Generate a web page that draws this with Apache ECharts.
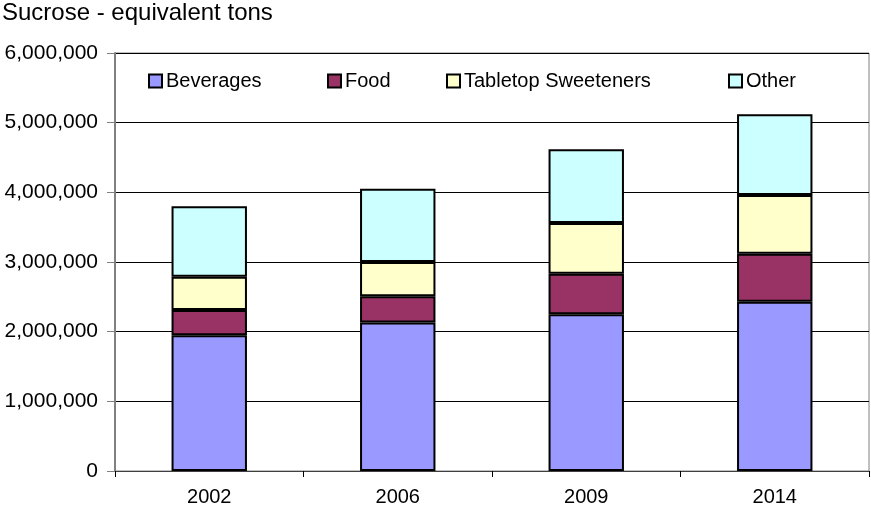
<!DOCTYPE html>
<html>
<head>
<meta charset="utf-8">
<script src="https://cdn.jsdelivr.net/npm/echarts@6/dist/echarts.min.js"></script>
<style>
  html, body { margin: 0; padding: 0; background: #fff; }
  #chart { width: 871px; height: 512px; }
</style>
</head>
<body>
<div id="chart"></div>
<script>
// Sweetener use by application, sucrose-equivalent tons
const years = ['2002', '2006', '2009', '2014'];
const beverages = [1950000, 2130000, 2250000, 2430000];
const food = [360000, 380000, 580000, 690000];
const tabletop = [480000, 490000, 730000, 840000];
const other = [1010000, 1050000, 1060000, 1160000];
const yTicks = [0, 1000000, 2000000, 3000000, 4000000, 5000000, 6000000];

const FONT = '"Liberation Sans", Arial, sans-serif';

const seriesDefs = [
  { name: 'Beverages', data: beverages, color: '#9999FF', legendLeft: 148 },
  { name: 'Food', data: food, color: '#993366', legendLeft: 327 },
  { name: 'Tabletop Sweeteners', data: tabletop, color: '#FFFFCC', legendLeft: 446 },
  { name: 'Other', data: other, color: '#CCFFFF', legendLeft: 728 }
];

const chart = echarts.init(document.getElementById('chart'));

chart.setOption({
  animation: false,
  backgroundColor: '#fff',
  title: {
    text: 'Sucrose - equivalent tons',
    left: 0,
    top: 0,
    padding: [1, 0, 0, 2],
    textStyle: { fontFamily: FONT, fontSize: 24, fontWeight: 'normal', color: '#000' }
  },
  legend: seriesDefs.map(s => ({
    data: [s.name],
    left: s.legendLeft,
    top: 71,
    padding: 0,
    icon: 'rect',
    itemWidth: 13,
    itemHeight: 13,
    itemGap: 0,
    itemStyle: { borderColor: '#000', borderWidth: 2 },
    textStyle: { fontFamily: FONT, fontSize: 20, color: '#000', padding: [0, 0, 0, -1] }
  })),
  grid: {
    left: 115,
    right: 2,
    top: 53,
    bottom: 41,
    show: true,
    borderColor: '#808080',
    borderWidth: 1
  },
  xAxis: {
    type: 'category',
    data: years,
    axisLine: { lineStyle: { color: '#404040', width: 1 } },
    axisTick: { show: true, length: 6, inside: false, alignWithLabel: false, lineStyle: { color: '#000' } },
    axisLabel: { fontFamily: FONT, fontSize: 20, color: '#000', margin: 16 }
  },
  yAxis: {
    type: 'value',
    min: 0,
    max: yTicks[yTicks.length - 1],
    interval: yTicks[1] - yTicks[0],
    axisLine: { show: true, lineStyle: { color: '#808080', width: 2 } },
    axisTick: { show: true, length: 8, lineStyle: { color: '#808080' } },
    axisLabel: {
      fontFamily: FONT, fontSize: 21, color: '#000', margin: 17,
      formatter: v => v.toLocaleString('en-US')
    },
    splitLine: { show: true, lineStyle: { color: '#000', width: 1 } }
  },
  series: seriesDefs.map(s => ({
    name: s.name,
    type: 'bar',
    stack: 'total',
    data: s.data,
    barWidth: '40%',
    itemStyle: { color: s.color, borderColor: '#000', borderWidth: 2 }
  }))
});
</script>
</body>
</html>
